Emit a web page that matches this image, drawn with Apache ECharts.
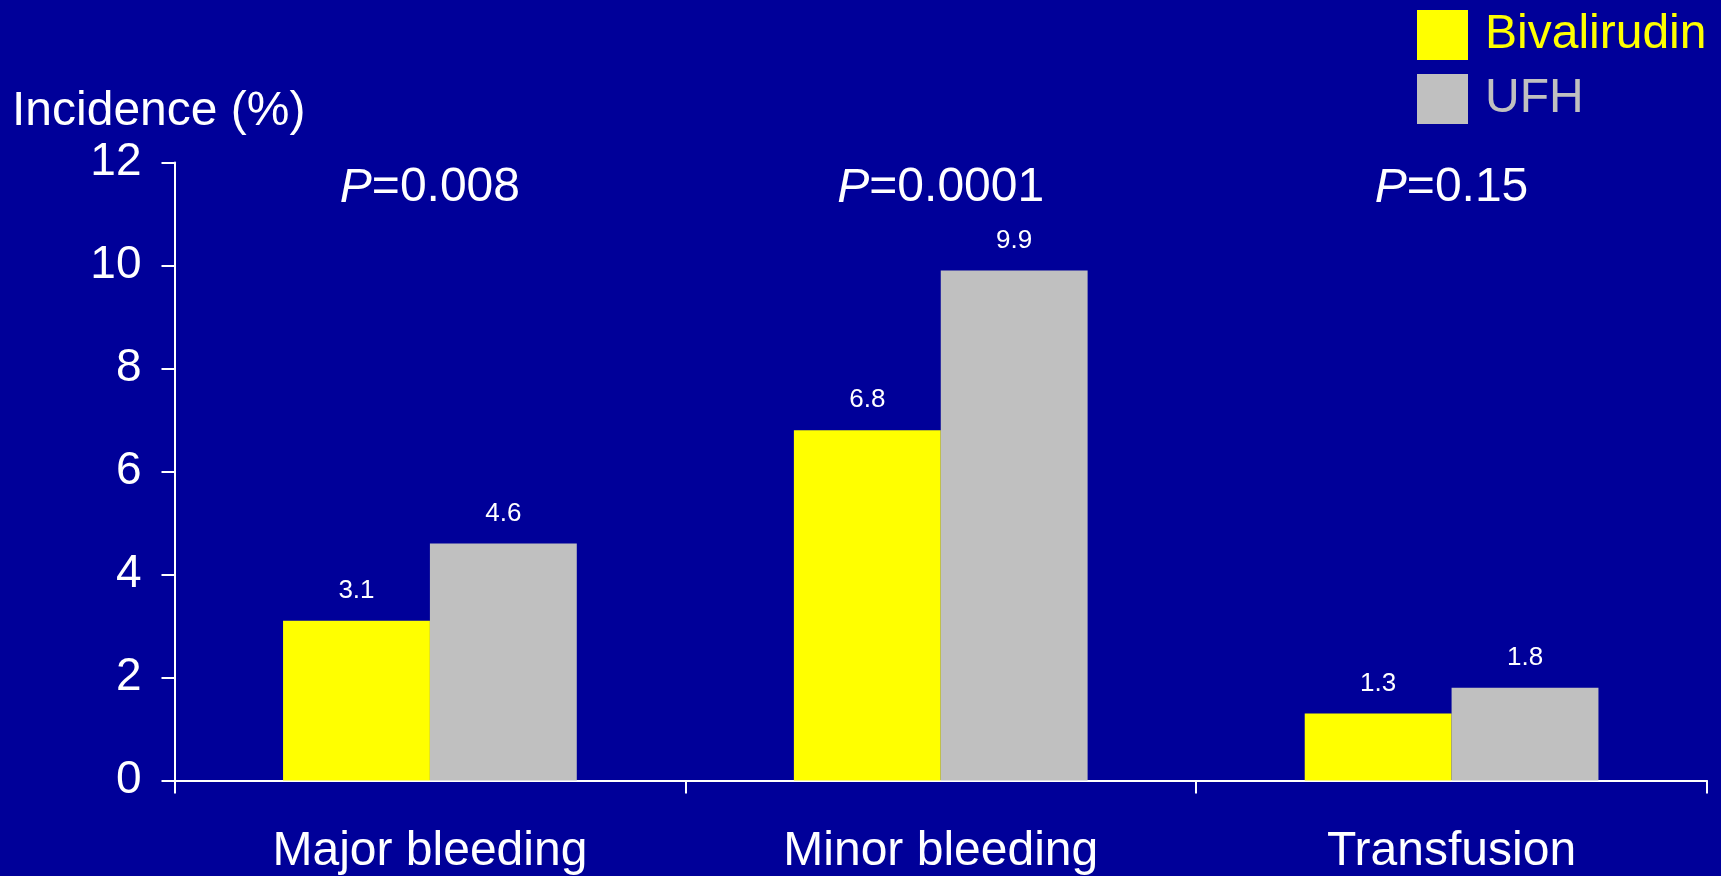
<!DOCTYPE html>
<html>
<head>
<meta charset="utf-8">
<script src="https://cdn.jsdelivr.net/npm/echarts@6/dist/echarts.min.js"></script>
<style>
  html, body { margin: 0; padding: 0; background: #000099; }
  #chart { width: 1721px; height: 876px; }
</style>
</head>
<body>
<div id="chart"></div>
<script>
// Bleeding outcomes by treatment arm
const categories = ['Major bleeding', 'Minor bleeding', 'Transfusion'];
const bivalirudin = [3.1, 6.8, 1.3];
const ufh = [4.6, 9.9, 1.8];
const pValues = ['0.008', '0.0001', '0.15'];
const yTicks = [0, 2, 4, 6, 8, 10, 12];

const FONT = '"Liberation Sans", Arial, sans-serif';
const pLevel = 11.5; // height at which the P-value annotations sit

const valueLabel = {
  show: true,
  position: 'top',
  distance: 17,
  color: '#ffffff',
  fontSize: 26,
  fontFamily: FONT,
  formatter: p => p.value.toFixed(1)
};

const chart = echarts.init(document.getElementById('chart'));

chart.setOption({
  backgroundColor: '#000099',
  animation: false,
  textStyle: { fontFamily: FONT },
  title: {
    text: 'Incidence (%)',
    left: 12,
    top: 88,
    padding: 0,
    textStyle: { color: '#ffffff', fontSize: 48, fontWeight: 'normal', fontFamily: FONT }
  },
  legend: {
    orient: 'vertical',
    left: 1412,
    top: 5,
    itemWidth: 51,
    itemHeight: 50,
    itemGap: 14,
    icon: 'rect',
    data: [
      { name: 'Bivalirudin', textStyle: { color: '#ffff00' } },
      { name: 'UFH', textStyle: { color: '#c0c0c0' } }
    ],
    textStyle: { fontSize: 48, fontFamily: FONT, padding: [4, 0, 0, 12] }
  },
  grid: { left: 174.5, right: 14, top: 162.4, bottom: 95.6, containLabel: false },
  xAxis: {
    type: 'category',
    data: categories,
    axisLine: { lineStyle: { color: '#ffffff', width: 2 } },
    axisTick: { show: true, length: 13, lineStyle: { color: '#ffffff', width: 2 } },
    axisLabel: { color: '#ffffff', fontSize: 48, fontFamily: FONT, margin: 47 }
  },
  yAxis: {
    type: 'value',
    min: yTicks[0],
    max: yTicks[yTicks.length - 1],
    interval: 2,
    splitLine: { show: false },
    axisLine: { show: true, lineStyle: { color: '#ffffff', width: 2 } },
    axisTick: { show: true, length: 13, lineStyle: { color: '#ffffff', width: 2 } },
    axisLabel: { color: '#ffffff', fontSize: 46, fontFamily: FONT, margin: 33 }
  },
  series: [
    {
      name: 'Bivalirudin',
      type: 'bar',
      data: bivalirudin,
      barGap: '0%',
      barCategoryGap: '42.5%',
      itemStyle: { color: '#ffff00' },
      label: valueLabel
    },
    {
      name: 'UFH',
      type: 'bar',
      data: ufh,
      barGap: '0%',
      barCategoryGap: '42.5%',
      itemStyle: { color: '#c0c0c0' },
      label: valueLabel
    },
    {
      name: 'P',
      type: 'scatter',
      symbolSize: 0,
      silent: true,
      itemStyle: { color: '#ffffff', opacity: 1 },
      data: pValues.map(() => pLevel),
      label: {
        show: true,
        position: 'inside',
        color: '#ffffff',
        textBorderWidth: 0,
        opacity: 1,
        fontSize: 48,
        fontFamily: FONT,
        formatter: p => '{i|P}=' + pValues[p.dataIndex],
        rich: { i: { fontStyle: 'italic', fontSize: 48, color: '#ffffff', textBorderWidth: 0, fontFamily: FONT } }
      }
    }
  ]
});
</script>
</body>
</html>
